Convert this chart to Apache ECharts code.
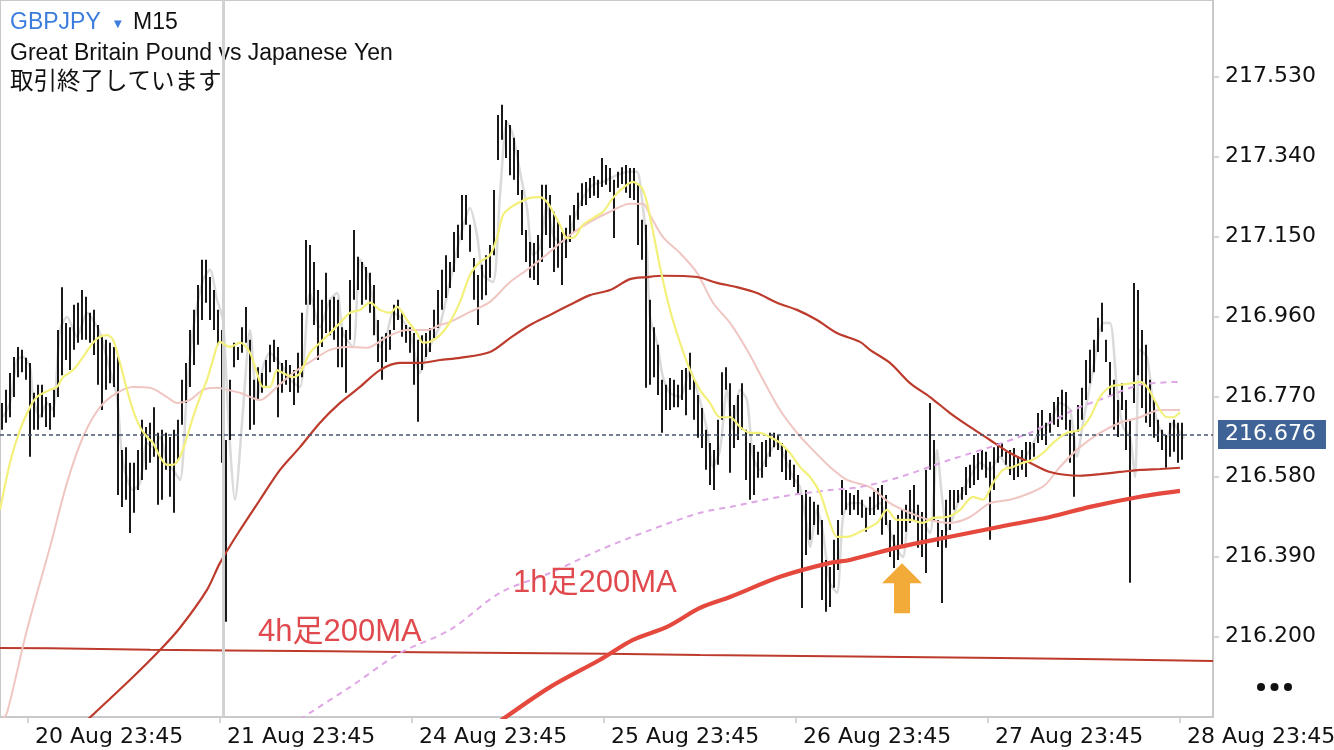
<!DOCTYPE html>
<html><head><meta charset="utf-8">
<script src="https://cdn.jsdelivr.net/npm/echarts@6/dist/echarts.min.js"></script>
<style>html,body{margin:0;padding:0;background:#fff}#c{width:1334px;height:750px}</style>
</head><body><div id="c"></div>
<script>
// ---- time axis (30-minute slots, index 0 = first bar) ----
const tickPos = [6.5, 54.5, 102.5, 150.5, 198.5, 246.5, 294.5];
const tickLabels = ["20 Aug 23:45","21 Aug 23:45","24 Aug 23:45","25 Aug 23:45","26 Aug 23:45","27 Aug 23:45","28 Aug 23:45"];
const priceTicks = [216.200, 216.390, 216.580, 216.770, 216.960, 217.150, 217.340, 217.530];
const priceMin = 216.009, priceMax = 217.712;
const lastPrice = 216.676;
const separatorAt = 55.25;

// ---- bar highs / lows ----
const highs = [
216.755,216.786,216.826,216.864,216.888,216.881,216.862,216.850,216.779,216.798,
216.798,216.769,216.755,216.786,216.928,217.030,216.945,216.935,216.988,216.993,
217.023,217.007,216.969,216.976,216.940,216.916,216.905,216.898,216.888,216.864,
216.643,216.650,216.613,216.613,216.643,216.715,216.698,216.708,216.745,216.684,
216.691,216.684,216.674,216.691,216.715,216.810,216.850,216.928,216.976,217.035,
217.095,217.095,217.054,217.023,216.976,216.928,216.667,216.810,216.898,216.888,
216.935,216.983,216.905,216.810,216.840,216.826,216.857,216.893,216.905,216.888,
216.850,216.857,216.845,216.833,216.874,216.969,217.142,217.130,217.090,217.023,
217.000,217.064,217.000,217.007,217.000,216.935,216.928,217.047,217.166,217.102,
217.090,217.078,217.064,217.035,216.952,216.912,216.921,216.928,216.988,217.000,
216.969,216.940,216.935,216.921,216.905,216.916,216.921,216.933,216.976,217.023,
217.071,217.106,217.090,217.161,217.178,217.249,217.249,217.178,217.099,217.059,
217.083,217.106,217.130,217.261,217.439,217.463,217.427,217.415,217.385,217.356,
217.261,217.166,217.137,217.135,217.154,217.273,217.273,217.249,217.209,217.185,
217.161,217.171,217.201,217.225,217.254,217.277,217.280,217.289,217.294,217.285,
217.337,217.320,217.313,217.285,217.304,217.315,217.320,217.313,217.313,217.273,
217.190,217.178,217.000,216.935,216.893,216.810,216.798,216.814,216.810,216.798,
216.833,216.838,216.874,216.814,216.774,216.743,216.691,216.660,216.643,216.715,
216.828,216.840,216.802,216.750,216.774,216.802,216.691,216.660,216.655,216.639,
216.662,216.667,216.684,216.684,216.679,216.660,216.648,216.620,216.608,216.584,
216.536,216.548,216.532,216.520,216.513,216.477,216.382,216.365,216.430,216.477,
216.572,216.548,216.541,216.536,216.548,216.525,216.506,216.532,216.544,216.553,
216.560,216.536,216.477,216.442,216.489,216.501,216.513,216.548,216.560,216.513,
216.496,216.596,216.755,216.667,216.477,216.453,216.525,216.548,216.548,216.548,
216.555,216.603,216.608,216.631,216.636,216.643,216.639,216.615,216.650,216.660,
216.660,216.639,216.643,216.648,216.627,216.643,216.662,216.662,216.660,216.731,
216.738,216.708,216.731,216.757,216.769,216.786,216.781,216.715,216.686,216.750,
216.791,216.857,216.881,216.905,216.957,216.993,216.905,216.852,216.810,216.762,
216.802,216.762,216.715,217.040,217.023,216.928,216.893,216.810,216.762,216.715,
216.691,216.679,216.708,216.715,216.708,216.708];
const lows = [
216.691,216.708,216.721,216.769,216.816,216.828,216.810,216.627,216.691,216.691,
216.721,216.698,216.691,216.721,216.769,216.821,216.857,216.833,216.881,216.898,
216.905,216.905,216.898,216.869,216.798,216.738,216.786,216.802,216.793,216.536,
216.508,216.525,216.446,216.494,216.548,216.572,216.596,216.613,216.627,216.513,
216.525,216.596,216.532,216.494,216.620,216.703,216.755,216.793,216.845,216.893,
216.952,216.993,216.952,216.928,216.893,216.613,216.235,216.667,216.840,216.857,
216.874,216.898,216.691,216.703,216.762,216.779,216.793,216.828,216.852,216.721,
216.779,216.798,216.781,216.750,216.779,216.816,216.988,216.988,216.940,216.857,
216.888,216.921,216.916,216.905,216.840,216.840,216.779,216.905,217.000,217.023,
216.988,217.000,216.969,216.916,216.852,216.810,216.852,216.881,216.928,216.952,
216.912,216.898,216.874,216.798,216.710,216.833,216.864,216.876,216.909,216.933,
216.976,217.004,217.028,217.066,217.099,217.142,217.178,217.114,217.000,216.940,
217.000,217.011,217.052,217.106,217.332,217.380,217.337,217.296,217.285,217.249,
217.154,217.090,217.052,217.047,217.035,217.090,217.154,217.123,217.066,217.076,
217.035,217.099,217.137,217.161,217.190,217.223,217.225,217.242,217.247,217.242,
217.268,217.273,217.256,217.147,217.266,217.275,217.254,217.242,217.237,217.130,
217.095,216.791,216.798,216.816,216.774,216.684,216.738,216.738,216.745,216.745,
216.762,216.726,216.786,216.715,216.672,216.648,216.596,216.560,216.548,216.608,
216.715,216.786,216.589,216.648,216.667,216.691,216.572,216.525,216.536,216.577,
216.577,216.603,216.627,216.650,216.643,216.591,216.572,216.572,216.555,216.536,
216.268,216.394,216.430,216.465,216.442,216.287,216.259,216.270,216.316,216.358,
216.489,216.501,216.489,216.501,216.489,216.482,216.449,216.489,216.489,216.501,
216.442,216.465,216.389,216.363,216.382,216.418,216.449,216.470,216.477,216.411,
216.389,216.351,216.596,216.477,216.413,216.280,216.411,216.453,216.501,216.518,
216.525,216.536,216.553,216.560,216.572,216.596,216.577,216.430,216.548,216.613,
216.627,216.608,216.584,216.572,216.579,216.596,216.579,216.615,216.627,216.660,
216.667,216.655,216.684,216.703,216.698,216.715,216.691,216.613,216.532,216.686,
216.715,216.762,216.802,216.828,216.876,216.924,216.852,216.774,216.691,216.674,
216.738,216.643,216.328,216.755,216.821,216.743,216.708,216.698,216.672,216.662,
216.643,216.601,216.627,216.639,216.613,216.620];

// ---- moving averages as [slot, price] ----
const maFastGray = [[0.25,216.721],[2,216.755],[3.75,216.857],[5.25,216.864],[7,216.840],[7.75,216.769],[9.5,216.721],[11.25,216.755],[12.75,216.738],[14.5,216.928],[16.25,216.959],[18.75,216.912],[21.25,216.969],[22.75,216.952],[24.5,216.921],[27,216.833],[28.75,216.769],[30.25,216.613],[32.75,216.548],[34.5,216.565],[36.25,216.660],[37.75,216.650],[39.5,216.674],[41.25,216.613],[42.75,216.596],[44.5,216.572],[46.25,216.786],[47.75,216.928],[50.25,217.047],[52,217.071],[53.75,217.000],[55.25,216.952],[56.75,216.691],[58.25,216.525],[60.25,216.738],[62,216.928],[63.75,216.762],[65.25,216.840],[67,216.874],[68.75,216.857],[70.25,216.840],[72,216.810],[74.5,216.793],[77,217.016],[79.5,216.935],[82,217.000],[83.75,217.016],[85.25,216.921],[87.75,216.888],[89.5,217.095],[91.25,217.064],[92.75,217.000],[94.5,216.888],[96.25,216.921],[97.75,216.969],[99.5,216.959],[102,216.921],[104.5,216.826],[106.25,216.874],[107.75,216.905],[109.5,216.940],[112,217.042],[114.5,217.147],[117,217.218],[118.75,217.154],[120.25,217.059],[122.75,217.042],[124.5,217.249],[126.25,217.422],[127.75,217.391],[129.5,217.304],[131.25,217.218],[132.75,217.106],[134.5,217.123],[136.25,217.225],[137.75,217.154],[139.5,217.137],[141.25,217.137],[142.75,217.185],[145.25,217.242],[147.75,217.273],[150.25,217.280],[153.75,217.296],[157,217.304],[158.75,217.304],[160.25,217.218],[161.25,217.118],[162,216.959],[163.75,216.898],[165.25,216.816],[167,216.779],[169.5,216.769],[172,216.833],[173.75,216.786],[176.25,216.691],[177.75,216.603],[179.5,216.643],[181.25,216.786],[182.75,216.691],[184.5,216.786],[186.25,216.762],[187.75,216.627],[189.5,216.596],[191.25,216.627],[193.75,216.660],[196.25,216.613],[197.75,216.579],[199.5,216.555],[201.25,216.461],[202,216.413],[203.75,216.501],[205.25,216.446],[207,216.327],[208.75,216.304],[210.25,216.484],[212,216.517],[214.5,216.517],[217,216.501],[219.5,216.517],[221.25,216.470],[223.75,216.406],[225.25,216.389],[227,216.501],[229.5,216.484],[232,216.446],[233.75,216.643],[235,216.532],[236.25,216.453],[237.75,216.484],[239.5,216.532],[242,216.579],[244.5,216.613],[247,216.596],[249.5,216.627],[252,216.596],[254.5,216.613],[257,216.643],[259.5,216.691],[262,216.708],[264.5,216.755],[267,216.738],[268.75,216.627],[270.25,216.708],[272.75,216.833],[275.25,216.945],[277,216.945],[278.75,216.786],[280.25,216.698],[282,216.674],[283.25,216.579],[284.5,216.881],[286.25,216.864],[287.75,216.755],[289.5,216.691],[291.25,216.674],[292.75,216.708],[294.5,216.684],[295.5,216.670]];
const maYellow = [[-0.5,216.501],[2,216.613],[4.5,216.691],[7,216.745],[8.75,216.769],[12,216.786],[13.75,216.793],[15.25,216.816],[17.75,216.833],[20.25,216.864],[22.75,216.898],[24.5,216.912],[26.25,216.916],[27.75,216.905],[29.5,216.850],[31.25,216.786],[32.75,216.738],[34.5,216.698],[36.25,216.674],[37.75,216.660],[39.5,216.627],[41.25,216.608],[42.75,216.608],[44.5,216.627],[46.25,216.674],[47.75,216.721],[49.5,216.769],[51.25,216.810],[52.75,216.857],[54.5,216.900],[57,216.888],[59.5,216.898],[62,216.874],[63.75,216.826],[65.25,216.793],[67,216.793],[68.75,216.833],[70.25,216.826],[72.75,216.816],[74.5,216.826],[77,216.874],[79.5,216.898],[82,216.921],[84.5,216.945],[87,216.969],[89.5,216.976],[92,216.993],[94.5,216.976],[97,216.969],[98.75,216.983],[101.25,216.952],[103.75,216.921],[105.25,216.898],[107,216.900],[109.5,216.916],[112,216.947],[114.5,216.995],[117,217.059],[119.5,217.090],[122,217.106],[123.75,217.147],[125.25,217.201],[127,217.218],[129.5,217.232],[132,217.242],[134.5,217.244],[136.25,217.232],[137.75,217.209],[139.5,217.178],[141.25,217.147],[142.75,217.147],[145.25,217.178],[147.75,217.194],[150.25,217.209],[152.75,217.242],[155.25,217.266],[157.75,217.280],[160.25,217.261],[162,217.197],[164.5,217.078],[167,216.976],[169.5,216.898],[172,216.833],[174.5,216.786],[177,216.755],[179.5,216.721],[182,216.721],[184.5,216.698],[187,216.684],[189.5,216.684],[192,216.674],[194.5,216.660],[197,216.636],[199.5,216.603],[202,216.579],[204.5,216.541],[207,216.470],[208.75,216.437],[211.25,216.437],[214.5,216.449],[218.75,216.470],[221.25,216.501],[223.75,216.477],[227,216.477],[230.25,216.470],[232.75,216.482],[236.25,216.484],[239.5,216.501],[242.75,216.532],[245.25,216.525],[247.75,216.565],[250.25,216.596],[252.75,216.603],[255.25,216.613],[257.75,216.620],[260.25,216.636],[262.75,216.660],[266.25,216.684],[269.5,216.691],[272,216.721],[274.5,216.769],[277,216.793],[279.5,216.798],[282.75,216.802],[284.5,216.805],[286.25,216.793],[287.75,216.769],[289.5,216.738],[291.25,216.721],[292.75,216.721],[294.5,216.733]];
const maPink = [[0,216.002],[1.25,216.019],[6.25,216.216],[12,216.413],[16.25,216.565],[20.25,216.674],[24.5,216.745],[28.75,216.779],[32.75,216.793],[37,216.791],[41.25,216.769],[43.75,216.755],[47,216.762],[50.25,216.786],[53.75,216.791],[56.25,216.786],[59.5,216.779],[64.5,216.762],[68.75,216.793],[72.75,216.826],[77.75,216.857],[82,216.881],[86.25,216.888],[91.25,216.886],[96.25,216.912],[101.25,216.928],[106.25,216.928],[109.5,216.940],[112,216.947],[117,216.971],[122,216.995],[127,217.042],[132,217.076],[137,217.114],[142,217.154],[147,217.185],[152,217.209],[157,217.228],[160.25,217.228],[162,217.201],[165.25,217.149],[169.5,217.111],[173.75,217.064],[177.75,216.993],[182,216.945],[186.25,216.881],[190.25,216.810],[194.5,216.738],[198.75,216.684],[202.75,216.643],[207,216.603],[211.25,216.572],[217,216.555],[222,216.517],[227,216.494],[232,216.477],[237,216.470],[242,216.484],[247,216.517],[252,216.525],[257,216.541],[260.75,216.560],[264.5,216.603],[269.5,216.650],[274.5,216.684],[279.5,216.708],[284.5,216.721],[289.5,216.738],[294.5,216.738]];
const maDarkRed = [[20.75,215.997],[32.75,216.104],[39.5,216.168],[44.5,216.221],[51.25,216.311],[54.5,216.375],[59.5,216.453],[64.5,216.525],[69.5,216.596],[74.5,216.650],[79.5,216.708],[84.5,216.755],[89.5,216.793],[94.5,216.833],[99.5,216.850],[104.5,216.850],[109.5,216.857],[114.5,216.862],[122,216.876],[127,216.909],[132,216.940],[137,216.964],[142,216.988],[147,217.011],[152,217.023],[157,217.049],[161.25,217.054],[165.25,217.057],[173.75,217.054],[178.75,217.040],[183.75,217.030],[188.75,217.016],[193.75,216.993],[198.75,216.976],[203.75,216.952],[208.75,216.921],[214.5,216.900],[217,216.881],[222,216.850],[227,216.802],[232,216.769],[237,216.731],[242,216.698],[247,216.667],[252,216.636],[257,216.613],[262,216.591],[269.5,216.582],[274.5,216.586],[279.5,216.591],[284.5,216.596],[289.5,216.598],[294.5,216.601]];
const ma1h200 = [[74.5,216.002],[77,216.019],[87,216.080],[99.5,216.161],[112,216.216],[124.5,216.304],[137,216.351],[149.5,216.406],[162,216.453],[174.5,216.494],[182,216.508],[194.5,216.532],[207,216.548],[214.5,216.555],[224.5,216.579],[237,216.620],[247,216.650],[257,216.684],[262,216.708],[267.75,216.738],[276.25,216.769],[284.5,216.798],[294.5,216.805]];
const maThickRed = [[124.5,215.999],[137,216.080],[149.5,216.145],[157.75,216.192],[166.25,216.223],[174.5,216.268],[182,216.294],[194.5,216.342],[207,216.375],[212,216.382],[224.5,216.413],[237,216.437],[249.5,216.461],[262,216.484],[272,216.508],[284.5,216.532],[294.5,216.546]];
const ma4h200 = [[-0.5,216.173],[12,216.172],[37,216.169],[57,216.167],[82,216.165],[104.5,216.163],[127.75,216.161],[151.25,216.159],[174.5,216.156],[219.5,216.152],[249.5,216.149],[274.5,216.146],[302.75,216.142]];
const arrowAt = [225, 216.315];

const bars = highs.map((h, i) => [i, h, lows[i]]);

const chart = echarts.init(document.getElementById('c'), null, {renderer: 'canvas'});
const axisFont = 'DejaVu Sans';
const lineS = (name, data, color, width, z, extra) => Object.assign({
  name, type: 'line', data, showSymbol: false, symbol: 'none', smooth: 0.3,
  lineStyle: {color, width}, z, silent: true, clip: true, animation: false
}, extra || {});

chart.setOption({
  animation: false,
  backgroundColor: '#ffffff',
  grid: {left: 0, top: 0, right: 121, bottom: 33, containLabel: false, outerBoundsMode: 'none',
    show: true, borderColor: '#c9c9c9', borderWidth: 2, backgroundColor: 'transparent'},
  xAxis: {
    type: 'value', min: -0.5, max: 302.75,
    axisLine: {show: true, onZero: false, lineStyle: {color: '#c9c9c9', width: 2}},
    axisTick: {show: true, customValues: tickPos, length: 6, lineStyle: {color: '#c9c9c9', width: 1.5}},
    axisLabel: {
      customValues: tickPos, align: 'left', padding: [0, 0, 0, 7], margin: 9,
      color: '#111', fontSize: 22, fontFamily: axisFont,
      formatter: v => { const k = tickPos.indexOf(v); return k >= 0 ? tickLabels[k] : ''; }
    },
    splitLine: {show: false}
  },
  yAxis: {
    type: 'value', position: 'right', min: priceMin, max: priceMax,
    axisLine: {show: true, onZero: false, lineStyle: {color: '#c9c9c9', width: 2}},
    axisTick: {show: true, customValues: priceTicks, length: 6, lineStyle: {color: '#c9c9c9', width: 1.5}},
    axisLabel: {customValues: priceTicks, margin: 12, color: '#111', fontSize: 22, fontFamily: axisFont,
      formatter: v => v.toFixed(3)},
    splitLine: {show: false}
  },
  graphic: [
    {type: 'text', x: 10, y: 23, style: {text: 'GBPJPY', fill: '#3b7ddd', font: '23px "Liberation Sans", Arial, sans-serif', verticalAlign: 'middle'}},
    {type: 'text', x: 114, y: 24, style: {text: '▼', fill: '#3b7ddd', font: '10px "DejaVu Sans"', verticalAlign: 'middle'}},
    {type: 'text', x: 133, y: 23, style: {text: 'M15', fill: '#111', font: '23px "Liberation Sans", Arial, sans-serif', verticalAlign: 'middle'}},
    {type: 'text', x: 10, y: 54, style: {text: 'Great Britain Pound vs Japanese Yen', fill: '#111', font: '23px "Liberation Sans", Arial, sans-serif', verticalAlign: 'middle'}},
    {type: 'text', x: 10, y: 80, style: {text: '取引終了しています', fill: '#111', font: '23.5px "Noto Sans CJK JP", sans-serif', verticalAlign: 'middle'}},
    {type: 'text', x: 258, y: 632, z: 20, style: {text: '4h足200MA', fill: '#e04a4e', font: '31px "Liberation Sans", "Noto Sans CJK JP", sans-serif', verticalAlign: 'middle'}},
    {type: 'text', x: 513, y: 583, z: 20, style: {text: '1h足200MA', fill: '#e04a4e', font: '31px "Liberation Sans", "Noto Sans CJK JP", sans-serif', verticalAlign: 'middle'}},
    {type: 'circle', shape: {cx: 1261, cy: 687, r: 4}, style: {fill: '#111'}},
    {type: 'circle', shape: {cx: 1274.5, cy: 687, r: 4}, style: {fill: '#111'}},
    {type: 'circle', shape: {cx: 1288, cy: 687, r: 4}, style: {fill: '#111'}}
  ],
  series: [
    {
      type: 'line', data: [], z: 1, silent: true,
      markLine: {symbol: 'none', silent: true, animation: false, label: {show: false},
        lineStyle: {color: '#d2d2d2', width: 3, type: 'solid'},
        data: [{xAxis: separatorAt}]}
    },
    lineS('ma5', maFastGray, '#dadada', 2.5, 2, {smooth: 0.25}),
    {
      type: 'custom', name: 'bars', z: 3, silent: true, clip: true,
      data: bars, encode: {x: 0, y: [1, 2]},
      renderItem: (params, api) => {
        const a = api.coord([api.value(0), api.value(1)]);
        const b = api.coord([api.value(0), api.value(2)]);
        return {type: 'line', shape: {x1: a[0], y1: a[1], x2: b[0], y2: b[1]}, style: {stroke: '#000', lineWidth: 1.8}};
      }
    },
    lineS('ma4h200', ma4h200, '#bd3b2c', 2, 4, {smooth: false}),
    lineS('maPink', maPink, '#efc6c2', 2, 4),
    lineS('maDarkRed', maDarkRed, '#bd3b2c', 2.2, 4),
    lineS('ma1h200', ma1h200, '#dfa6e6', 2, 4, {lineStyle: {color: '#dfa6e6', width: 2, type: [6, 5]}}),
    lineS('maYellow', maYellow, '#f3f07c', 2.2, 5),
    lineS('maThick', maThickRed, '#e5483c', 4.2, 5, {
      markPoint: {
        silent: true, animation: false,
        data: [{coord: arrowAt, symbol: 'path://M20,0 L40,20 L28,20 L28,50 L12,50 L12,20 L0,20 Z',
          symbolSize: [40, 50], itemStyle: {color: '#f2aa38'}, label: {show: false}}]
      }
    }),
    {
      type: 'line', data: [], z: 6, silent: true,
      markLine: {symbol: 'none', silent: true, animation: false,
        lineStyle: {color: '#46566e', width: 1.5, type: [4, 3]},
        label: {show: true, position: 'end', distance: 5, formatter: lastPrice.toFixed(3),
          color: '#fff', backgroundColor: '#3f6396', padding: [4, 10, 3, 7],
          fontSize: 22, fontFamily: axisFont},
        data: [{yAxis: lastPrice}]}
    }
  ]
});
</script>
</body></html>
